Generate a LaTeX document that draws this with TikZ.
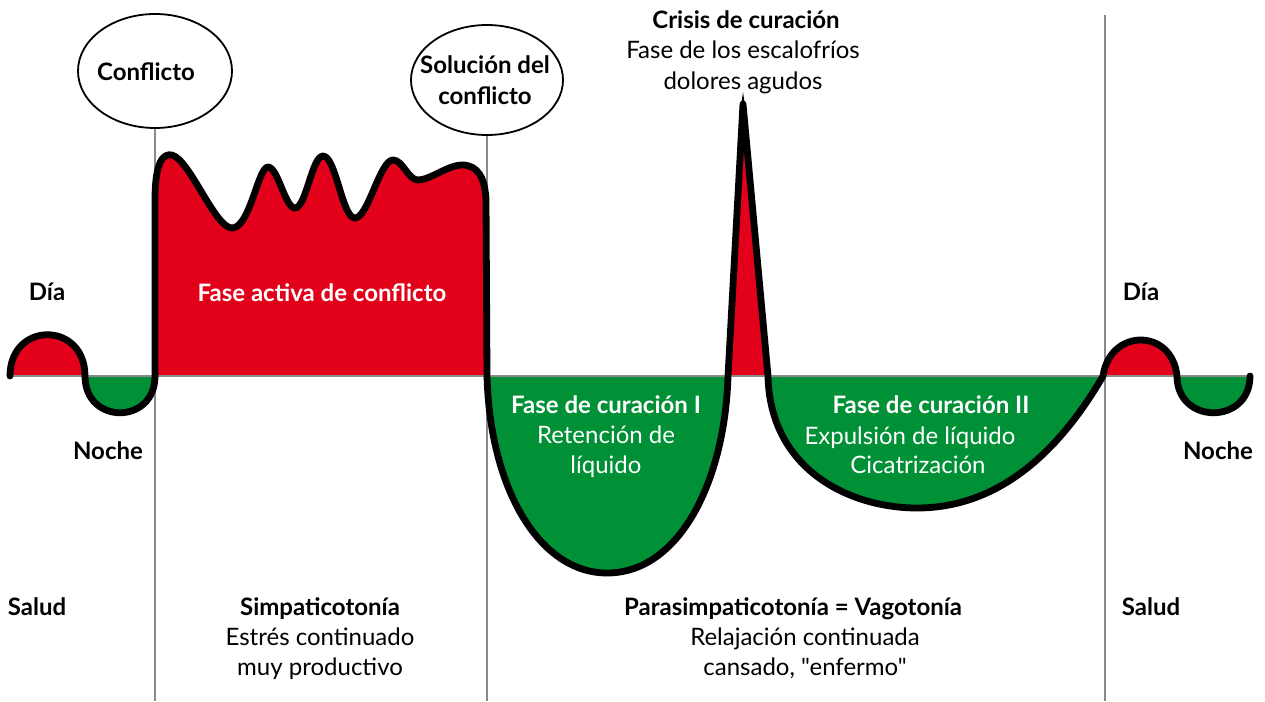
\documentclass[tikz,border=0pt]{standalone}
\usepackage{fontspec}
\setmainfont{Lato}
\usetikzlibrary{shapes.geometric}
\definecolor{cred}{HTML}{E2001A}
\definecolor{cgreen}{HTML}{009036}
\definecolor{cgray}{HTML}{8A8A8A}
\begin{document}
\begin{tikzpicture}[x=1pt,y=-1pt,
  txt/.style={inner sep=0pt, anchor=base, font=\fontsize{24}{30}\selectfont},
  btxt/.style={txt, font=\fontsize{24}{30}\selectfont\bfseries},
  wtxt/.style={txt, text=white},
  wbtxt/.style={btxt, text=white},
  bubble/.style={ellipse, draw=black, line width=1.8pt, fill=white, inner sep=0pt},
  divider/.style={draw=cgray, line width=1.8pt},
  axisline/.style={draw=cgray, line width=1.6pt},
  curve/.style={draw=black, line width=6.8pt, line join=round, line cap=round}]
\useasboundingbox (0,0) rectangle (1265,701);

\def\curvepath{(10,376) .. controls (10,321) and (85,321) .. (85,376)
  .. controls (85,425) and (155,425) .. (155,376)
  -- (155,200) .. controls (155,162) and (163,153) .. (172,155)
  .. controls (190,160) and (215,228) .. (232,228)
  .. controls (250,228) and (258,167) .. (268,167)
  .. controls (278,167) and (285,208) .. (295,208)
  .. controls (306,208) and (312,156) .. (323,156)
  .. controls (336,156) and (342,218) .. (355,218)
  .. controls (368,218) and (380,160) .. (393,160)
  .. controls (403,160) and (408,180) .. (418,180)
  .. controls (430,180) and (448,165) .. (462,165)
  .. controls (478,165) and (485,178) .. (486,200)
  -- (487,376)
  .. controls (490,490) and (540,573) .. (607,573)
  .. controls (680,573) and (725,480) .. (728,376)
  -- (743,104) -- (768,376)
  .. controls (770,470) and (850,508) .. (917,508)
  .. controls (1000,508) and (1060,450) .. (1103,376)
  .. controls (1110,328) and (1172,328) .. (1177,376)
  .. controls (1177,425) and (1250,425) .. (1250,376)}

% bubbles
\node[bubble, minimum width=154pt, minimum height=114pt] (c1) at (155,71) {};
\node[bubble, minimum width=152pt, minimum height=110pt] (c2) at (487,80) {};
\coordinate (b1) at (155,701);
\coordinate (b2) at (487,701);
\coordinate (t3) at (1105,15);
\coordinate (b3) at (1105,701);
\draw[divider] (c1.south) -- (b1);
\draw[divider] (c2.south) -- (b2);
\draw[divider] (t3) -- (b3);

% fills
\begin{scope}
  \clip (0,0) rectangle (1265,376);
  \fill[cred] \curvepath -- cycle;
\end{scope}
\begin{scope}
  \clip (0,376) rectangle (1265,701);
  \fill[cgreen] \curvepath -- cycle;
\end{scope}
\coordinate (a1) at (10,376);
\coordinate (a2) at (1250,376);
\draw[axisline] (a1) -- (a2);
\draw[curve] \curvepath;
% pointed tip of the spike
\coordinate (tipL) at (739.2,118);
\coordinate (tipR) at (746.8,118);
\coordinate (tip) at (743,92);
\fill[black] (tipL) -- (tip) -- (tipR) -- cycle;

% bubble texts
\node[btxt] (tc1) at (146,80) {Conflicto};
\node[btxt] (tc2a) at (485,74) {Solución del};
\node[btxt] (tc2b) at (485,104) {conflicto};

% crisis
\node[btxt] (cr1) at (746,29) {Crisis de curación};
\node[txt] (cr2) at (743,59) {Fase de los escalofríos};
\node[txt] (cr3) at (743,89) {dolores agudos};

% side labels
\node[btxt] (dia1) at (47,300) {Día};
\node[btxt] (noc1) at (108,459) {Noche};
\node[btxt] (sal1) at (37,615) {Salud};
\node[btxt] (dia2) at (1141,300) {Día};
\node[btxt] (noc2) at (1218,459) {Noche};
\node[btxt] (sal2) at (1151,615) {Salud};

% phase labels
\node[wbtxt] (fa) at (322,301) {Fase activa de conflicto};
\node[wbtxt] (f1a) at (606,413) {Fase de curación I};
\node[wtxt] (f1b) at (606,443) {Retención de};
\node[wtxt] (f1c) at (606,473) {líquido};
\node[wbtxt] (f2a) at (931,413) {Fase de curación II};
\node[wtxt] (f2b) at (910,444) {Expulsión de líquido};
\node[wtxt] (f2c) at (918,473) {Cicatrización};

% bottom labels
\node[btxt] (s1) at (320,615) {Simpaticotonía};
\node[txt] (s2) at (320,645) {Estrés continuado};
\node[txt] (s3) at (320,675) {muy productivo};
\node[btxt] (p1) at (793,615) {Parasimpaticotonía = Vagotonía};
\node[txt] (p2) at (805,645) {Relajación continuada};
\node[txt] (p3) at (805,675) {\addfontfeatures{Ligatures=TeXOff}cansado, "enfermo"};
\end{tikzpicture}
\end{document}
